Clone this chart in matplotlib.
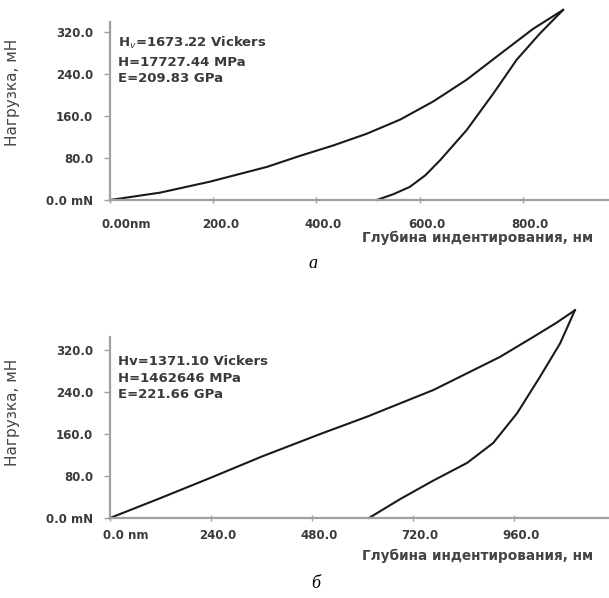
import matplotlib.pyplot as plt
from matplotlib.transforms import ScaledTranslation

# панель а
load_a_depth = [0, 97, 194, 304, 368, 433, 497, 562, 627, 691, 756, 820, 878]
load_a_force = [0, 14, 35, 63, 84, 104, 126, 153, 188, 229, 278, 326, 362]
unload_a_depth = [517, 549, 581, 611, 640, 691, 743, 788, 833, 878]
unload_a_force = [0, 11, 25, 47, 76, 133, 203, 267, 317, 362]
xticks_a = [0, 200, 400, 600, 800]
xlabels_a = ["0.00nm", "200.0", "400.0", "600.0", "800.0"]
text_a = ["H$_v$=1673.22 Vickers", "H=17727.44 MPa", "E=209.83 GPa"]

# панель б
load_b_depth = [0, 120, 240, 360, 499, 610, 768, 926, 1005, 1060, 1104]
load_b_force = [0, 38, 77, 117, 160, 193, 244, 307, 345, 372, 396]
unload_b_depth = [615, 689, 767, 848, 910, 967, 1021, 1069, 1104]
unload_b_force = [0, 36, 71, 105, 143, 200, 269, 333, 396]
xticks_b = [0, 240, 480, 720, 960]
xlabels_b = ["0.0 nm", "240.0", "480.0", "720.0", "960.0"]
text_b = ["Hv=1371.10 Vickers", "H=1462646 MPa", "E=221.66 GPa"]

yticks = [0, 80, 160, 240, 320]
ylabels = ["0.0 mN", "80.0", "160.0", "240.0", "320.0"]

plt.rcParams['font.family'] = ['DejaVu Sans']

fig = plt.figure(figsize=(6.09, 5.98), dpi=100)
W, H = 609.0, 598.0
TXT = "#3a3a3a"


def make_axes(left, right, top, bottom):
    return fig.add_axes([left / W, 1 - bottom / H, (right - left) / W, (bottom - top) / H])


def setup(ax, xmax, ymax, xticks, xlabels, lines, ty, xpad):
    ax.set_xlim(0, xmax)
    ax.set_ylim(0, ymax)
    for s in ["top", "right"]:
        ax.spines[s].set_visible(False)
    for s in ["left", "bottom"]:
        ax.spines[s].set_color("#a0a0a0")
        ax.spines[s].set_linewidth(1.6)
    ax.set_xticks(xticks)
    ax.set_xticklabels(xlabels)
    ax.set_yticks(yticks)
    ax.set_yticklabels(ylabels)
    ax.tick_params(axis="both", colors="#a0a0a0", labelcolor=TXT,
                   labelsize=8.5, length=4, width=1)
    ax.tick_params(axis="x", direction="inout", pad=xpad)
    ax.tick_params(axis="y", pad=8)
    labs = ax.get_xticklabels()
    for i, lab in enumerate(labs):
        lab.set_fontweight("bold")
        dx = 16 if i == 0 else 7
        lab.set_transform(lab.get_transform() + ScaledTranslation(dx / 100, 0, fig.dpi_scale_trans))
    for lab in ax.get_yticklabels():
        lab.set_fontweight("bold")
    for t, y in zip(lines, ty):
        ax.text(0.016, y, t, transform=ax.transAxes, fontsize=9.5,
                fontweight="bold", color=TXT, va="center")


ax1 = make_axes(110, 609, 22, 200)
ax1.plot(load_a_depth, load_a_force, color="#1a1a1a", lw=1.5, clip_on=False)
ax1.plot(unload_a_depth, unload_a_force, color="#1a1a1a", lw=1.5, clip_on=False)
setup(ax1, 967, 339, xticks_a, xlabels_a, text_a, [0.882, 0.775, 0.685], 11)

ax2 = make_axes(110, 609, 337, 518)
ax2.plot(load_b_depth, load_b_force, color="#1a1a1a", lw=1.5, clip_on=False)
ax2.plot(unload_b_depth, unload_b_force, color="#1a1a1a", lw=1.5, clip_on=False)
setup(ax2, 1185, 345, xticks_b, xlabels_b, text_b, [0.862, 0.773, 0.685], 6)

# подписи осей
for yc in [92, 412]:
    fig.text(13 / W, 1 - yc / H, "Нагрузка, мН", rotation=90, fontsize=11,
             color="#444444", ha="center", va="center")
for yc in [238, 556]:
    fig.text(362 / W, 1 - yc / H, "Глубина индентирования, нм", fontsize=9.8,
             fontweight="bold", color="#444444", ha="left", va="center")

fig.text(313 / W, 1 - 263 / H, "a", fontsize=13, style="italic",
         family="Liberation Serif", ha="center", va="center")
fig.text(316 / W, 1 - 583 / H, "б", fontsize=13, style="italic",
         family="Liberation Serif", ha="center", va="center")

fig.savefig("out.png", dpi=100, facecolor="white")
